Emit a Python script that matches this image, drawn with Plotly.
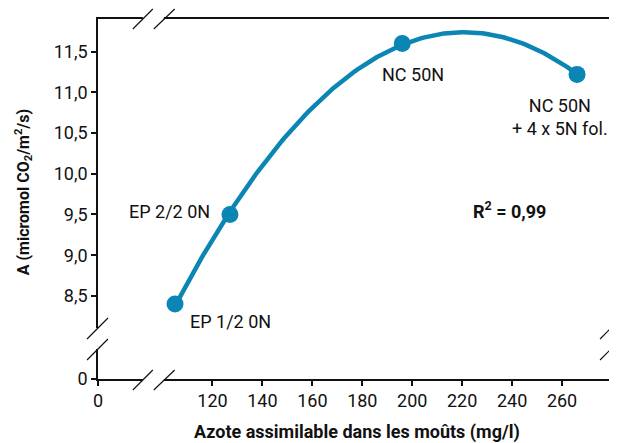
import numpy as np
import plotly.graph_objects as go

# Data
azote = [105, 127, 196, 266]
photosynthese = [8.4, 9.5, 11.6, 11.22]
labels = ["EP 1/2 0N", "EP 2/2 0N", "NC 50N", "NC 50N<br>+ 4 x 5N fol."]
x_ticks = [120, 140, 160, 180, 200, 220, 240, 260]
y_ticks = [8.5, 9.0, 9.5, 10.0, 10.5, 11.0, 11.5]
r2_text = "R<sup>2</sup> = 0,99"

# broken-axis display positions for the "0" ticks
X_ZERO = 74.15
Y_ZERO = 7.48
X_MAX = 279.2
Y_MAX = 11.90

BLUE = "#0b86b4"
FONT = "Roboto"
FS = 18

# quadratic trend line fitted to the data (as in the original chart)
coef = np.polyfit(azote, photosynthese, 2)
xs = np.linspace(min(azote), max(azote), 200)
ys = np.polyval(coef, xs)

fig = go.Figure()
fig.add_trace(go.Scatter(x=xs, y=ys, mode="lines",
                         line=dict(color=BLUE, width=4.5), hoverinfo="skip"))
fig.add_trace(go.Scatter(x=azote, y=photosynthese, mode="markers",
                         marker=dict(color=BLUE, size=17)))

# page has an 8px body margin: figure is offset by it
OFF = 8
W, H = 617 - OFF, 443 - OFF
# target plot box in window pixels
X0, X1, Y0, Y1 = 98, 612, 19, 379
L, T = X0 - OFF, Y0 - OFF
R = W - L - (X1 - X0)
B = H - T - (Y1 - Y0)
PW, PH = X1 - X0, Y1 - Y0


def px(xp):
    return (xp - X0) / PW


def py(yp):
    return (Y1 - yp) / PH


# point labels (anchor positions in window pixels)
lab_pos = [(188, 321, "left"), (212, 211, "right"),
           (414, 74, "center"), (562, 117, "center")]
for t, (ax, cy, anc) in zip(labels, lab_pos):
    fig.add_annotation(x=px(ax), y=py(cy), xref="paper", yref="paper", text=t,
                       showarrow=False, align="center", xanchor=anc, yanchor="middle",
                       font=dict(family=FONT, size=FS, color="#111"))

fig.add_annotation(x=px(511), y=py(210), xref="paper", yref="paper",
                   xanchor="center", yanchor="middle",
                   text="<b>" + r2_text + "</b>", showarrow=False,
                   font=dict(family=FONT, size=FS, color="#111"))

# axis titles
fig.add_annotation(x=px(358), y=py(432), xref="paper", yref="paper",
                   xanchor="center", yanchor="middle",
                   text="<b>Azote assimilable dans les moûts (mg/l)</b>", showarrow=False,
                   font=dict(family=FONT, size=FS, color="#111"))
fig.add_annotation(x=px(24), y=py(192), xref="paper", yref="paper",
                   xanchor="center", yanchor="middle",
                   text="<b>A (micromol CO<sub>2</sub>/m<sup>2</sup>/s)</b>", showarrow=False,
                   textangle=-90,
                   font=dict(family=FONT, size=16, color="#111"))

shapes = []
# white gaps in axis lines
for (x0, x1, y0, y1) in [(143, 164, 15, 23), (143, 164, 375, 383),
                         (93, 102, 328, 349), (608, 616, 332, 351)]:
    shapes.append(dict(type="rect", xref="paper", yref="paper",
                       x0=px(x0), x1=px(x1), y0=py(y1), y1=py(y0),
                       fillcolor="white", line=dict(width=0), layer="above"))
# slashes
for (x0, y0, x1, y1) in [(133, 29, 153, 9), (154, 29, 175, 9),
                         (133, 390, 153, 370), (154, 390, 175, 370),
                         (87, 339, 108, 318), (87, 360, 108, 339),
                         (602, 339, 617, 324), (602, 360, 616, 346)]:
    shapes.append(dict(type="line", xref="paper", yref="paper",
                       x0=px(x0), y0=py(y0), x1=px(x1), y1=py(y1),
                       line=dict(color="#111", width=1.2), layer="above"))

fig.update_layout(
    width=W, height=H, margin=dict(l=L, r=R, t=T, b=B),
    paper_bgcolor="white", plot_bgcolor="white", showlegend=False,
    shapes=shapes,
    font=dict(family=FONT, size=FS, color="#111"),
    xaxis=dict(range=[X_ZERO, X_MAX], tickvals=[X_ZERO] + x_ticks,
               ticktext=["0"] + [str(v) for v in x_ticks],
               showgrid=False, zeroline=False, showline=True, mirror=True,
               linecolor="#111", linewidth=1.5, ticks="outside", ticklen=5,
               tickwidth=1.5, tickcolor="#111",
               tickfont=dict(family=FONT, size=FS, color="#111")),
    yaxis=dict(range=[Y_ZERO, Y_MAX], tickvals=[Y_ZERO] + y_ticks,
               ticktext=["0"] + [f"{v:.1f}".replace(".", ",") for v in y_ticks],
               showgrid=False, zeroline=False, showline=True, mirror=True,
               linecolor="#111", linewidth=1.5, ticks="outside", ticklen=5,
               tickwidth=1.5, tickcolor="#111",
               tickfont=dict(family=FONT, size=FS, color="#111")),
)

fig.write_html("out.html")
